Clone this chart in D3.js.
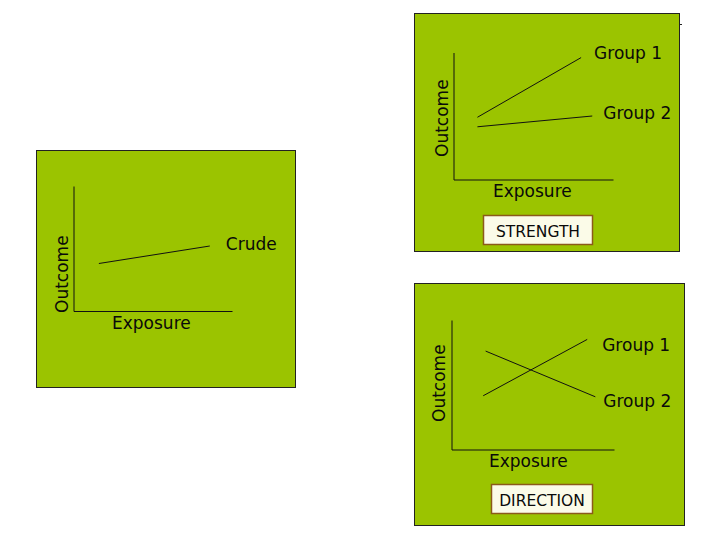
<!DOCTYPE html>
<html>
<head>
<meta charset="utf-8">
<script src="https://cdn.jsdelivr.net/npm/d3@7"></script>
<style>
  body { margin: 0; background: #fff; }
  svg text { font-family: "DejaVu Sans", Verdana, sans-serif; fill: #0a0a0a; }
</style>
</head>
<body>
<div id="chart"></div>
<script>
// conceptual lines, values on a 0-10 scale for exposure (x) and outcome (y)
const crudeLine = [[1.6, 3.8], [8.6, 5.2]];
const strengthGroup1 = [[1.5, 4.9], [8.0, 9.6]];
const strengthGroup2 = [[1.5, 4.15], [8.7, 5.0]];
const directionGroup1 = [[1.95, 4.15], [8.35, 8.5]];
const directionGroup2 = [[2.1, 7.6], [8.85, 4.07]];
const seriesNames = ['Crude', 'Group 1', 'Group 2'];
const panelTitles = ['STRENGTH', 'DIRECTION'];
const xLabel = 'Exposure';
const yLabel = 'Outcome';

const width = 720, height = 540;
const svg = d3.select('#chart').append('svg')
  .attr('width', width)
  .attr('height', height);

// panel layout: frame box, axis area, axis title spots and caption box
const panels = [
  { frame: [36, 150, 295, 387], axis: [73.5, 311, 232, 186],
    yLab: [68, 313], xLab: [112, 329],
    series: [{ data: crudeLine, name: seriesNames[0], dx: 16, dy: 4 }] },
  { frame: [414, 13, 679, 251], axis: [453.5, 179.5, 613, 52.5],
    yLab: [448, 157], xLab: [493, 197],
    series: [{ data: strengthGroup1, name: seriesNames[1], dx: 13, dy: 1 },
             { data: strengthGroup2, name: seriesNames[2], dx: 11, dy: 3 }],
    caption: { text: panelTitles[0], box: [483.5, 215.5, 592.5, 244.5] } },
  { frame: [414, 283, 684, 525], axis: [451.5, 449.5, 614, 320],
    yLab: [445, 422], xLab: [489, 467],
    series: [{ data: directionGroup1, name: seriesNames[1], dx: 15, dy: 12 },
             { data: directionGroup2, name: seriesNames[2], dx: 8, dy: 10 }],
    caption: { text: panelTitles[1], box: [491.5, 484.5, 592.5, 513.5] } }
];

panels.forEach(p => {
  const g = svg.append('g');
  const [fx0, fy0, fx1, fy1] = p.frame;
  g.append('rect')
    .attr('x', fx0 + 0.5).attr('y', fy0 + 0.5)
    .attr('width', fx1 - fx0).attr('height', fy1 - fy0)
    .attr('fill', '#9bc400')
    .attr('stroke', '#222').attr('stroke-width', 1);

  const [ax0, ay0, ax1, ay1] = p.axis;
  const x = d3.scaleLinear().domain([0, 10]).range([ax0, ax1]);
  const y = d3.scaleLinear().domain([0, 10]).range([ay0, ay1]);

  // axes with no ticks, just the lines
  g.append('g')
    .attr('transform', `translate(0,${ay0})`)
    .call(d3.axisBottom(x).ticks(0).tickSize(0).tickSizeOuter(0))
    .call(a => a.select('.domain').attr('stroke', '#111'));
  g.append('g')
    .attr('transform', `translate(${ax0},0)`)
    .call(d3.axisLeft(y).ticks(0).tickSize(0).tickSizeOuter(0))
    .call(a => a.select('.domain').attr('stroke', '#111'));

  g.append('text')
    .attr('x', p.xLab[0]).attr('y', p.xLab[1])
    .attr('font-size', 17)
    .text(xLabel);
  g.append('text')
    .attr('transform', `translate(${p.yLab[0]},${p.yLab[1]}) rotate(-90)`)
    .attr('font-size', 17)
    .text(yLabel);

  const line = d3.line().x(d => x(d[0])).y(d => y(d[1]));
  p.series.forEach(s => {
    g.append('path')
      .attr('d', line(s.data))
      .attr('fill', 'none')
      .attr('stroke', '#111')
      .attr('stroke-width', 1);
    const end = s.data[s.data.length - 1];
    g.append('text')
      .attr('x', x(end[0]) + s.dx)
      .attr('y', y(end[1]) + s.dy)
      .attr('font-size', 17)
      .text(s.name);
  });

  if (p.caption) {
    const [bx0, by0, bx1, by1] = p.caption.box;
    g.append('rect')
      .attr('x', bx0).attr('y', by0)
      .attr('width', bx1 - bx0).attr('height', by1 - by0)
      .attr('fill', '#fbfbe8')
      .attr('stroke', '#8b5a1a').attr('stroke-width', 1.5);
    g.append('text')
      .attr('x', (bx0 + bx1) / 2).attr('y', by1 - 8)
      .attr('text-anchor', 'middle')
      .attr('font-size', 15.5)
      .text(p.caption.text);
  }
});

// small stray tick at the top right corner of the strength panel
svg.append('line')
  .attr('x1', 679).attr('y1', 24.5).attr('x2', 682).attr('y2', 24.5)
  .attr('stroke', '#222');
</script>
</body>
</html>
